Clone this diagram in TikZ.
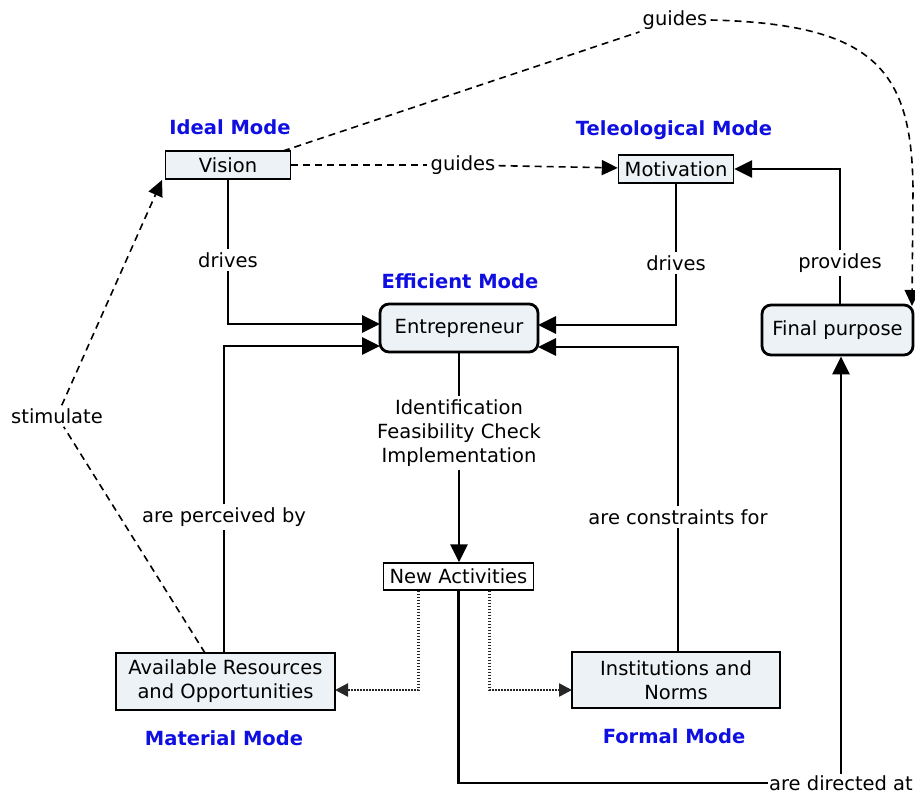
\documentclass[tikz,border=0pt]{standalone}
\usepackage{fontspec}
\setmainfont{DejaVu Sans}
\usetikzlibrary{arrows.meta}
\definecolor{boxfill}{RGB}{236,242,245}
\definecolor{modeblue}{RGB}{15,15,225}
\begin{document}
\begin{tikzpicture}[x=1pt,y=-1pt,
 every node/.style={font=\fontsize{19.5}{24}\selectfont},
 box/.style={draw, line width=1.4pt, fill=boxfill, inner sep=0pt, align=center},
 rbox/.style={box, rounded corners=9pt, line width=2.8pt},
 lbl/.style={inner sep=3pt, align=center},
 modelbl/.style={font=\fontsize{19.5}{24}\selectfont\bfseries, text=modeblue},
 conn/.style={line width=2.8pt, -{Triangle[length=18pt,width=17pt]}},
 plain/.style={line width=2.8pt},
 dashconn/.style={line width=1.6pt, dash pattern=on 7pt off 5pt},
 dashtip/.style={dashconn, -{Triangle[length=16pt,width=15pt]}},
 dotconn/.style={line width=2.4pt, black!85, dash pattern=on 1.6pt off 1.4pt, -{Triangle[length=13pt,width=13pt]}},
]
\useasboundingbox (0,0) rectangle (915,796);

% boxes
\node[box, minimum width=125pt, minimum height=28pt] (vision) at (228,165) {Vision};
\node[box, minimum width=115pt, minimum height=28pt] (motiv) at (676,169) {Motivation};
\node[rbox, minimum width=158pt, minimum height=48pt] (entre) at (459,328) {Entrepreneur};
\node[rbox, minimum width=151pt, minimum height=50pt] (final) at (837.5,330) {Final purpose};
\node[box, fill=white, minimum width=150pt, minimum height=27pt] (newact) at (458.5,576.5) {New Activities};
\node[box, minimum width=219pt, minimum height=57pt] (avail) at (225.5,681.5) {Available Resources\\and Opportunities};
\node[box, minimum width=208pt, minimum height=56pt] (inst) at (676,680) {Institutions and\\Norms};

% mode labels
\node[modelbl] (mIdeal) at (230,127) {Ideal Mode};
\node[modelbl] (mTel) at (674,130) {Teleological Mode};
\node[modelbl] (mEff) at (460,281) {Efficient Mode};
\node[modelbl] (mMat) at (224,738) {Material Mode};
\node[modelbl] (mForm) at (674,736) {Formal Mode};

% connector labels
\node[lbl] (guidesTop) at (675,20) {guides};
\node[lbl] (guidesMid) at (463,165) {guides};
\node[lbl] (drivesL) at (228,260) {drives};
\node[lbl] (drivesR) at (676,263) {drives};
\node[lbl] (provides) at (840,263) {provides};
\node[lbl] (ifi) at (459,433) {Identification\\Feasibility Check\\Implementation};
\node[lbl] (perc) at (224,517) {are perceived by};
\node[lbl] (constr) at (678,517) {are constraints for};
\node[lbl, inner sep=1pt] (directed) at (841,783) {are directed at};
\node[lbl] (stim) at (57,416) {stimulate};

% coordinates
\coordinate (eW1) at (380,324);
\coordinate (eW2) at (380,346);
\coordinate (eE1) at (538,325);
\coordinate (eE2) at (538,347);
\coordinate (vTop) at (283,151);
\coordinate (fpTip) at (912,306);
\coordinate (aStim) at (205,653);
\coordinate (vStim) at (162,180);
\coordinate (aIn) at (335,690);
\coordinate (iIn) at (572,690);

% solid connectors
\draw[plain] (vision) -- (drivesL);
\draw[conn] (drivesL) |- (eW1);
\draw[plain] (perc |- avail.north) -- (perc);
\draw[conn] (perc) |- (eW2);
\draw[plain] (motiv) -- (drivesR);
\draw[conn] (drivesR) |- (eE1);
\draw[plain] (constr |- inst.north) -- (constr);
\draw[conn] (constr) |- (eE2);
\draw[plain] (provides |- final.north) -- (provides);
\draw[conn] (provides) |- (motiv.east);
\draw[plain] (entre) -- (ifi);
\draw[conn] (ifi) -- (ifi |- newact.north);
\draw[plain] (newact) |- (directed);
\draw[conn] (directed) -- (directed |- final.south);

% dashed connectors
\draw[dashconn] (vTop) -- (guidesTop);
\draw[dashtip] (guidesTop.east) .. controls (875,24) and (912,70) .. (913,190) -- (fpTip);
\draw[dashconn] (vision) -- (guidesMid);
\draw[dashtip] (guidesMid) -- (motiv);
\draw[dashconn] (aStim) -- (stim);
\draw[dashtip] (stim) -- (vStim);

% dotted connectors
\draw[dotconn] ([xshift=-40pt]newact.south) |- (aIn);
\draw[dotconn] ([xshift=31pt]newact.south) |- (iIn);
\end{tikzpicture}
\end{document}
